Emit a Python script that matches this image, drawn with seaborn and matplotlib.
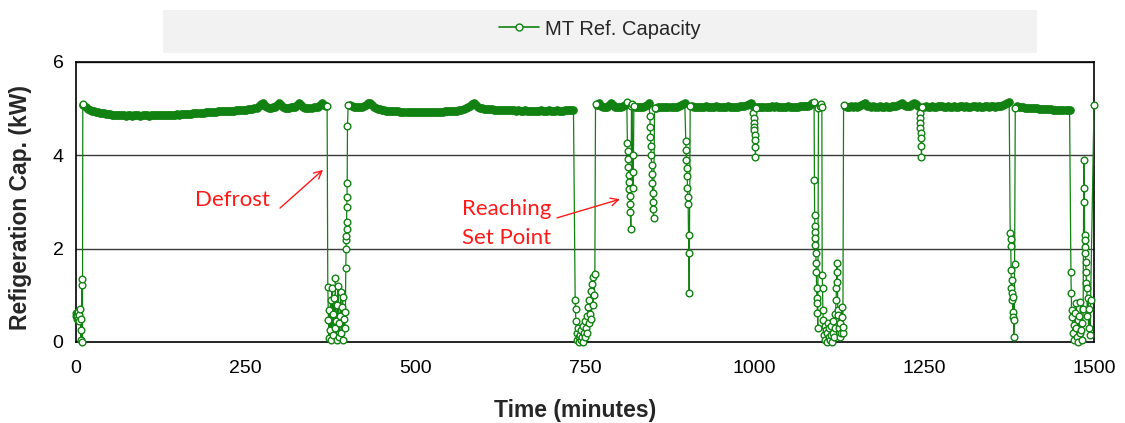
import numpy as np
import pandas as pd
import matplotlib
matplotlib.use("Agg")
import matplotlib.pyplot as plt
from matplotlib.patches import Rectangle
from matplotlib.lines import Line2D
import seaborn as sns

# ---------------------------------------------------------------------------
# Data: MT refrigeration capacity (kW) over one day of operation (minutes)
# Steady running periods are logged every STEP minutes from their start time;
# transients (start-up, defrosts, set-point cycling) have explicit readings.
# ---------------------------------------------------------------------------
STEP = 3

run1_start = 11
run1_kw = [5.08, 5.03, 5.00, 4.98, 4.96, 4.94, 4.93, 4.92, 4.91, 4.90,
           4.90, 4.89, 4.88, 4.88, 4.87, 4.87, 4.86, 4.87, 4.86, 4.86,
           4.86, 4.85, 4.86, 4.86, 4.85, 4.86, 4.86, 4.86, 4.85, 4.86,
           4.86, 4.86, 4.85, 4.86, 4.86, 4.86, 4.87, 4.86, 4.86, 4.86,
           4.86, 4.87, 4.86, 4.87, 4.87, 4.87, 4.88, 4.87, 4.88, 4.88,
           4.88, 4.89, 4.89, 4.89, 4.90, 4.90, 4.90, 4.91, 4.91, 4.91,
           4.92, 4.92, 4.92, 4.93, 4.93, 4.93, 4.94, 4.94, 4.94, 4.95,
           4.95, 4.95, 4.96, 4.96, 4.96, 4.97, 4.97, 4.97, 4.98, 4.98,
           4.98, 4.99, 4.99, 5.00, 5.01, 5.02, 5.05, 5.10, 5.12, 5.06,
           5.03, 5.02, 5.02, 5.03, 5.04, 5.08, 5.12, 5.07, 5.03, 5.02,
           5.02, 5.02, 5.03, 5.03, 5.04, 5.07, 5.12, 5.08, 5.04, 5.02,
           5.02, 5.02, 5.02, 5.03, 5.03, 5.04, 5.07, 5.12, 5.08, 5.06]

run2_start = 403
run2_kw = [5.08, 5.05, 5.04, 5.04, 5.03, 5.03, 5.04, 5.05, 5.08, 5.12,
           5.12, 5.07, 5.03, 5.01, 5.00, 4.99, 4.98, 4.97, 4.96, 4.96,
           4.95, 4.95, 4.94, 4.94, 4.94, 4.93, 4.93, 4.93, 4.93, 4.92,
           4.92, 4.93, 4.92, 4.92, 4.93, 4.92, 4.92, 4.92, 4.93, 4.92,
           4.92, 4.93, 4.93, 4.92, 4.93, 4.93, 4.93, 4.94, 4.94, 4.94,
           4.95, 4.95, 4.96, 4.96, 4.97, 4.98, 4.99, 5.01, 5.03, 5.06,
           5.10, 5.12, 5.08, 5.04, 5.02, 5.01, 5.00, 5.00, 4.99, 4.99,
           4.99, 4.98, 4.98, 4.98, 4.98, 4.97, 4.97, 4.97, 4.97, 4.97,
           4.97, 4.97, 4.96, 4.97, 4.96, 4.96, 4.97, 4.96, 4.96, 4.96,
           4.96, 4.96, 4.96, 4.96, 4.97, 4.96, 4.96, 4.96, 4.97, 4.96,
           4.96, 4.96, 4.97, 4.96, 4.96, 4.96, 4.97, 4.97, 4.97, 4.97, 4.97]

run3a_start = 767
run3a_kw = [5.08, 5.12, 5.06, 5.04, 5.03, 5.04, 5.07, 5.12, 5.07, 5.04,
            5.03, 5.04, 5.04, 5.05, 5.08]

run3b_start = 823
run3b_kw = [5.04, 5.03, 5.04, 5.03, 5.04, 5.05, 5.08, 5.13]

run3c_start = 855
run3c_kw = [5.02, 5.03, 5.04, 5.03, 5.04, 5.04, 5.03, 5.04, 5.04, 5.03,
            5.04, 5.05, 5.07, 5.10, 5.13]

run3d_start = 907
run3d_kw = [5.06, 5.04, 5.03, 5.04, 5.04, 5.03, 5.04, 5.05, 5.04, 5.03,
            5.04, 5.04, 5.05, 5.04, 5.04, 5.03, 5.04, 5.04, 5.05, 5.04,
            5.04, 5.03, 5.04, 5.04, 5.05, 5.05, 5.06, 5.07, 5.10, 5.13,
            5.05]

run3e_start = 1004
run3e_kw = [5.04, 5.03, 5.04, 5.04, 5.03, 5.04, 5.04, 5.05, 5.04, 5.06,
            5.04, 5.04, 5.03, 5.04, 5.04, 5.05, 5.04, 5.04, 5.03, 5.04,
            5.04, 5.05, 5.06, 5.05, 5.05, 5.06, 5.08, 5.12]

run4a_start = 1133
run4a_kw = [5.06, 5.04, 5.04, 5.05, 5.04, 5.05, 5.04, 5.05, 5.07, 5.11,
            5.12, 5.06, 5.05, 5.04, 5.05, 5.04, 5.04, 5.05, 5.04, 5.04,
            5.05, 5.04, 5.04, 5.05, 5.05, 5.06, 5.08, 5.11, 5.12, 5.07,
            5.05, 5.05, 5.06, 5.09, 5.12, 5.10, 5.06]

run4b_start = 1249
run4b_kw = [5.04, 5.05, 5.04, 5.04, 5.05, 5.04, 5.04, 5.05, 5.06, 5.05,
            5.04, 5.04, 5.05, 5.04, 5.04, 5.05, 5.04, 5.04, 5.05, 5.05,
            5.04, 5.05, 5.04, 5.04, 5.05, 5.05, 5.04, 5.05, 5.04, 5.04,
            5.05, 5.05, 5.04, 5.05, 5.05, 5.04, 5.05, 5.05, 5.06, 5.07,
            5.09, 5.12, 5.14]

run5_start = 1386
run5_kw = [5.06, 5.04, 5.03, 5.03, 5.02, 5.02, 5.02, 5.01, 5.01, 5.01,
           5.01, 5.00, 5.00, 5.00, 5.00, 4.99, 4.99, 4.99, 4.98, 4.98,
           4.98, 4.97, 4.97, 4.97, 4.97, 4.97, 4.97]

# Start-up pull-down
startup_min = [0, 0.5, 1, 1.5, 2, 2.5, 3, 4, 5, 6, 7, 7.5, 8, 8.5, 9, 9.5, 10]
startup_kw = [0.55, 0.62, 0.50, 0.60, 0.55, 0.65, 0.50, 0.58, 0.45, 0.70,
              0.26, 0.05, 0.50, 1.22, 1.35, 0.00, 5.10]

# First defrost
defrost1_min = [370, 371, 372, 372.5, 373, 374, 375, 376, 377, 378, 379, 380,
                381, 382, 383, 384, 385, 386, 387, 388, 389, 390, 391, 392,
                393, 394, 395, 396, 397, 397.5, 398, 398.2, 398.4, 398.6,
                398.8, 399, 399.3, 399.6, 400, 401]
defrost1_kw = [5.05, 1.18, 0.47, 0.08, 0.69, 0.26, 0.90, 0.05, 1.16, 0.60,
               0.15, 0.95, 0.30, 1.37, 0.45, 0.05, 0.80, 1.20, 0.40, 0.10,
               0.55, 1.08, 0.20, 0.75, 0.97, 0.05, 0.50, 0.30, 0.65, 1.58,
               2.00, 2.18, 2.27, 2.42, 2.57, 2.90, 3.10, 3.40, 4.62, 5.07]

# Second defrost
defrost2_min = [735.5, 736, 736.5, 737.5, 738.5, 739.5, 740.5, 741.5, 742.5,
                743.5, 744.5, 745.5, 746.5, 747.5, 748.5, 749.5, 750.5, 751.5,
                752.5, 753.5, 754.5, 755.5, 756.5, 757.5, 758.5, 759.5, 760.5,
                761.5, 762.5, 763.5, 764.5, 765.5]
defrost2_kw = [0.90, 0.70, 0.45, 0.20, 0.05, 0.30, 0.10, 0.00, 0.15, 0.05,
               0.25, 0.10, 0.35, 0.00, 0.20, 0.45, 0.10, 0.30, 0.55, 0.20,
               0.75, 0.40, 0.90, 0.60, 1.10, 0.50, 1.25, 0.80, 1.40, 1.00,
               1.45, 5.10]

# Set-point cycling dips
dip1_min = [811.5, 812.5, 813, 813.5, 814, 814.5, 815, 815.5, 816, 816.5, 817,
            817.5, 818.5, 819.5, 820, 820.5, 821, 822]
dip1_kw = [5.14, 4.26, 4.10, 3.92, 3.75, 3.58, 3.42, 3.27, 3.12, 2.95, 2.78,
           2.42, 5.05, 5.10, 4.00, 3.65, 3.30, 5.06]

dip2_min = [845.5, 846, 846.5, 847, 847.5, 848, 848.5, 849, 849.5, 850,
            850.5, 851, 852.5]
dip2_kw = [4.85, 4.60, 4.40, 4.20, 4.00, 3.80, 3.60, 3.40, 3.20, 3.00,
           2.85, 2.65, 5.02]

dip3_min = [898.5, 899, 899.5, 900, 900.5, 901, 901.5, 902, 902.5, 903,
            903.5, 905]
dip3_kw = [4.30, 4.12, 3.90, 3.72, 3.55, 3.30, 3.10, 2.95, 2.30, 1.90,
           1.05, 5.05]

dip4_min = [998, 998.4, 998.8, 999.2, 999.6, 1000, 1000.4, 1000.8, 1001.2,
            1002.2]
dip4_kw = [4.90, 4.80, 4.70, 4.61, 4.54, 4.43, 4.33, 4.18, 3.96, 5.02]

# Third defrost
defrost3_min = [1087.5, 1088, 1088.3, 1088.6, 1089, 1089.3, 1089.6, 1090,
                1090.4, 1090.8, 1091.2, 1091.6, 1092, 1092.5, 1093, 1094,
                1096, 1098, 1099, 1099.5, 1100, 1100.5, 1101, 1102, 1103,
                1104, 1105, 1106, 1107, 1108, 1109, 1110, 1111, 1112, 1113,
                1114, 1115, 1116, 1117, 1118, 1119, 1120, 1120.5, 1121,
                1121.5, 1122, 1122.5, 1123, 1124, 1125, 1126, 1127, 1128,
                1129, 1129.5, 1130, 1131]
defrost3_kw = [5.15, 3.47, 2.72, 2.48, 2.36, 2.23, 2.08, 1.90, 1.70, 1.51,
               1.16, 0.94, 0.83, 0.62, 0.30, 5.02, 5.05, 5.10, 5.04, 1.43,
               1.16, 0.69, 0.47, 0.15, 0.35, 0.05, 0.25, 0.00, 0.20, 0.40,
               0.10, 0.30, 0.05, 0.15, 0.35, 0.00, 0.20, 0.45, 0.10, 0.30,
               0.60, 0.90, 1.16, 1.50, 1.69, 1.29, 0.69, 0.58, 0.30, 0.10,
               0.40, 0.20, 0.54, 0.75, 0.19, 0.33, 5.08]

dip5_min = [1243, 1243.4, 1243.8, 1244.2, 1244.6, 1245, 1245.4, 1245.8, 1247]
dip5_kw = [4.90, 4.80, 4.69, 4.58, 4.47, 4.37, 4.20, 3.96, 5.03]

# Fourth defrost
defrost4_min = [1376.5, 1377, 1377.3, 1377.8, 1378.3, 1378.8, 1379.3, 1379.8,
                1380.3, 1380.8, 1381.3, 1381.8, 1382.3, 1383, 1384]
defrost4_kw = [2.33, 2.20, 2.05, 1.54, 1.16, 1.33, 0.90, 1.05, 0.64, 0.54,
               0.97, 0.11, 0.47, 1.67, 5.02]

# Fifth defrost
defrost5_min = [1466, 1466.5, 1467, 1468, 1469, 1470, 1471, 1472, 1473, 1474,
                1475, 1476, 1477, 1478, 1479, 1480, 1481, 1482, 1483, 1484,
                1485, 1485.4, 1485.8, 1486.2, 1486.6, 1487, 1487.4, 1487.8,
                1488.3, 1488.8, 1489.4, 1490, 1491, 1492, 1493, 1494, 1495,
                1500]
defrost5_kw = [1.51, 1.06, 0.54, 0.69, 0.19, 0.36, 0.04, 0.62, 0.30, 0.84,
               0.10, 0.47, 0.00, 0.55, 0.20, 0.86, 0.26, 0.40, 0.05, 0.70,
               3.90, 3.30, 2.99, 2.29, 2.18, 2.04, 1.90, 1.72, 1.51, 1.26,
               1.16, 0.56, 0.94, 0.30, 0.70, 0.15, 0.90, 5.07]

x_ticks = [0, 250, 500, 750, 1000, 1250, 1500]
y_ticks = [0, 2, 4, 6]

# ---------------------------------------------------------------------------
# Assemble the series
# ---------------------------------------------------------------------------
runs = [(run1_start, run1_kw), (run2_start, run2_kw), (run3a_start, run3a_kw),
        (run3b_start, run3b_kw), (run3c_start, run3c_kw),
        (run3d_start, run3d_kw), (run3e_start, run3e_kw),
        (run4a_start, run4a_kw), (run4b_start, run4b_kw),
        (run5_start, run5_kw)]
events = [(startup_min, startup_kw), (defrost1_min, defrost1_kw),
          (defrost2_min, defrost2_kw), (dip1_min, dip1_kw),
          (dip2_min, dip2_kw), (dip3_min, dip3_kw), (dip4_min, dip4_kw),
          (defrost3_min, defrost3_kw), (dip5_min, dip5_kw),
          (defrost4_min, defrost4_kw), (defrost5_min, defrost5_kw)]

frames = []
for start, vals in runs:
    frames.append(pd.DataFrame({"minutes": start + STEP * np.arange(len(vals)),
                                "kw": vals, "phase": "steady"}))
for mins, vals in events:
    frames.append(pd.DataFrame({"minutes": mins, "kw": vals,
                                "phase": "transient"}))
df = pd.concat(frames, ignore_index=True)
df = df.sort_values("minutes", kind="stable").reset_index(drop=True)
steady = df[df["phase"] == "steady"]
transient = df[df["phase"] == "transient"]

# ---------------------------------------------------------------------------
# Figure
# ---------------------------------------------------------------------------
sns.set_theme(style="white")
plt.rcParams["font.family"] = ["Liberation Sans", "DejaVu Sans"]

GREEN = "#118211"
fig = plt.figure(figsize=(11.25, 4.23), dpi=100)
ax = fig.add_axes([0.06756, 0.19149, 0.90489, 0.66194])

# connecting line through every reading
sns.lineplot(data=df, x="minutes", y="kw", ax=ax, sort=False, estimator=None,
             color=GREEN, linewidth=0.9, clip_on=False, zorder=3,
             legend=False)
# densely logged steady readings merge into a solid band
sns.lineplot(data=steady, x="minutes", y="kw", ax=ax, sort=False,
             estimator=None, color=GREEN, linestyle="none", marker="o",
             markersize=5.4, markerfacecolor=GREEN, markeredgecolor=GREEN,
             markeredgewidth=0.8, clip_on=False, zorder=4, legend=False)
# individual transient readings as open circles
sns.lineplot(data=transient, x="minutes", y="kw", ax=ax, sort=False,
             estimator=None, color=GREEN, linestyle="none", marker="o",
             markersize=4.8, markerfacecolor="white", markeredgecolor=GREEN,
             markeredgewidth=1.0, clip_on=False, zorder=5, legend=False)

ax.set_xlim(0, 1500)
ax.set_ylim(0, 6)
ax.set_xticks(x_ticks)
ax.set_yticks(y_ticks)
ax.tick_params(axis="both", labelsize=14, colors="black", direction="out")
ax.tick_params(axis="y", length=6, width=1.2, pad=3)
ax.tick_params(axis="x", length=5, width=1.2, pad=8)

for yv in y_ticks[1:]:
    ax.axhline(yv, color="#3a3a3a", linewidth=1.0, zorder=1)
for side in ["left", "right", "top", "bottom"]:
    ax.spines[side].set_visible(True)
    ax.spines[side].set_color("black")
    ax.spines[side].set_linewidth(1.2)

ax.set_xlabel("Time (minutes)", fontsize=16.5, fontweight="bold")
ax.set_ylabel("Refigeration Cap. (kW)", fontsize=16.5, fontweight="bold")
ax.xaxis.set_label_coords(0.49, -0.2036)
ax.yaxis.set_label_coords(-0.043, 0.479)

# Annotations
RED = "#ff1a1a"
ax.text(230, 3.04, "Defrost", color=RED, fontsize=16, family="Lato",
        ha="center", va="center")
ax.annotate("", xy=(364, 3.69), xytext=(300.6, 2.87),
            arrowprops=dict(arrowstyle="->", color=RED, lw=1.0,
                            shrinkA=0, shrinkB=0, mutation_scale=14))
ax.text(568.7, 2.54, "Reaching\nSet Point", color=RED, fontsize=16,
        family="Lato", ha="left", va="center", linespacing=1.55)
ax.annotate("", xy=(801.5, 3.06), xytext=(708.7, 2.66),
            arrowprops=dict(arrowstyle="->", color=RED, lw=1.0,
                            shrinkA=0, shrinkB=0, mutation_scale=14))

# Legend strip
fig.patches.append(Rectangle((0.1449, 0.8747), 0.7769, 0.1017,
                             transform=fig.transFigure, facecolor="#f2f2f2",
                             edgecolor="none", zorder=0))
handle = Line2D([], [], color=GREEN, linewidth=1.2, marker="o", markersize=5,
                markerfacecolor="white", markeredgecolor=GREEN,
                markeredgewidth=1.0)
fig.legend([handle], ["MT Ref. Capacity"], loc="center",
           bbox_to_anchor=(0.5333, 0.9314), frameon=False, fontsize=14.5,
           handlelength=2.0, handletextpad=0.3, numpoints=1)

fig.savefig("out.png", dpi=100)
